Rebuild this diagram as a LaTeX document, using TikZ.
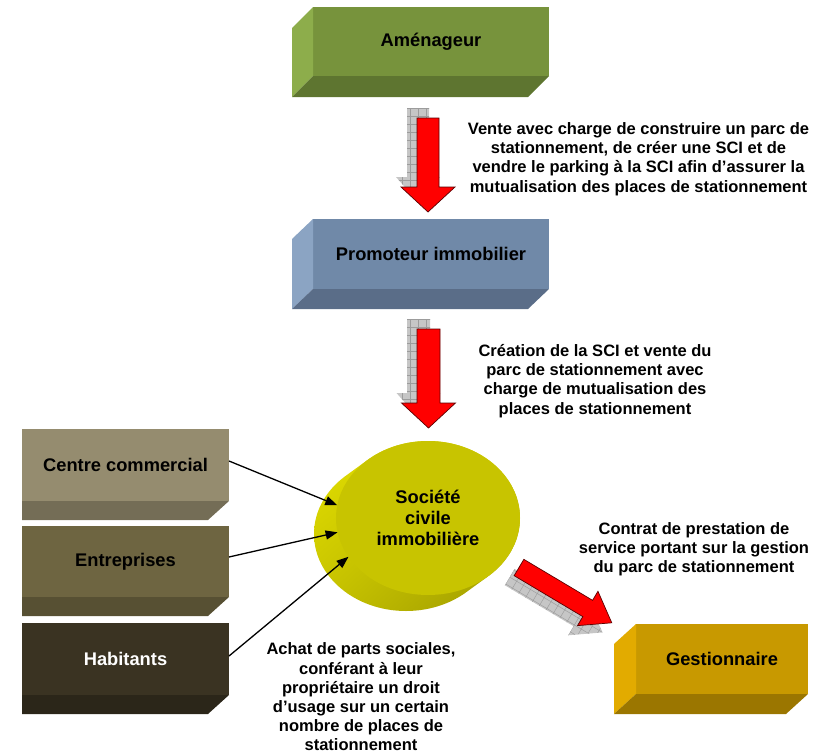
\documentclass[tikz,border=0pt]{standalone}
\usepackage{fontspec}
\setmainfont{Liberation Sans}
\usetikzlibrary{shapes.geometric,arrows.meta,calc,shadings}

% face colours of the blocks
\definecolor{amenF}{HTML}{77933C}
\definecolor{amenL}{HTML}{8DAD4B}
\definecolor{amenB}{HTML}{5E7530}
\definecolor{promF}{HTML}{7089A8}
\definecolor{promL}{HTML}{8BA4C3}
\definecolor{promB}{HTML}{5A6D88}
\definecolor{centF}{HTML}{958C6F}
\definecolor{centB}{HTML}{746D56}
\definecolor{entrF}{HTML}{6E6541}
\definecolor{entrB}{HTML}{575033}
\definecolor{habiF}{HTML}{3A3322}
\definecolor{habiB}{HTML}{2B2619}
\definecolor{gestF}{HTML}{C89900}
\definecolor{gestL}{HTML}{E2AB00}
\definecolor{gestB}{HTML}{9B7600}
\definecolor{sciF}{HTML}{C8C400}
\definecolor{sciUL}{HTML}{E6E200}
\definecolor{sciUR}{HTML}{D6D200}
\definecolor{sciLL}{HTML}{C8C400}
\definecolor{sciLR}{HTML}{969200}
% block arrows
\definecolor{arrowRed}{HTML}{FF0000}
\definecolor{arrowEdge}{HTML}{5A0000}
\definecolor{shadowGray}{HTML}{C6C6C6}
\definecolor{shadowLine}{HTML}{9C9C9C}

% left and bottom faces of an extruded block
\newcommand\boxsides[5]{%
  \fill[#4] (#1.north west) -- ++(-#2,#3) -- ([shift={(-#2,#3)}]#1.south west) -- (#1.south west) -- cycle;
  \fill[#5] (#1.south west) -- (#1.south east) -- ++(-#2,#3) -- ([shift={(-#2,#3)}]#1.south west) -- cycle;}
% bottom face only
\newcommand\boxbottom[4]{%
  \fill[#4] (#1.south west) -- (#1.south east) -- ++(-#2,#3) -- ([shift={(0,#3)}]#1.south west) -- cycle;}
% outline of a block arrow along the local x axis:
% length, half shaft width, half head width, head length
\newcommand\arrowpath[4]{(0,-#2) -- ({#1-#4},-#2) -- ({#1-#4},-#3) -- (#1,0) -- ({#1-#4},#3) -- ({#1-#4},#2) -- (0,#2) -- cycle}
% hatched grey shadow behind a block arrow
\newcommand\arrowshadow[4]{%
  \begin{scope}
    \clip \arrowpath{#1}{#2}{#3}{#4};
    \fill[shadowGray] (-20,-60) rectangle (150,60);
    \draw[draw=shadowLine, line width=0.45pt, step=8pt] (-24,-64) grid (152,64);
  \end{scope}}

\begin{document}
\begin{tikzpicture}[x=1pt,y=-1pt,
  face/.style={inner sep=0pt, outer sep=0pt, align=center,
    font=\bfseries\fontsize{18.3}{21}\selectfont},
  note/.style={inner sep=0pt, align=center,
    font=\bfseries\fontsize{16.5}{19.2}\selectfont},
  conn/.style={line width=1.3pt, -{Triangle[length=12pt,width=9pt]}},
  arrowred/.style={fill=arrowRed, draw=arrowEdge, line width=0.7pt, line join=miter}]

\useasboundingbox (0,0) rectangle (823,755);

% blocks
\node[face, fill=amenF, minimum width=236pt, minimum height=69pt] (amen) at (431,41.5) {Aménageur};
\boxsides{amen}{21}{21}{amenL}{amenB}

\node[face, fill=promF, minimum width=236pt, minimum height=70pt] (prom) at (431,254) {Promoteur immobilier};
\boxsides{prom}{21}{20}{promL}{promB}

\node[face, fill=centF, minimum width=207pt, minimum height=72pt] (cent) at (125.5,465) {Centre commercial};
\boxbottom{cent}{21}{19}{centB}

\node[face, fill=entrF, minimum width=207pt, minimum height=71pt] (entr) at (125.5,561.5) {Entreprises};
\boxbottom{entr}{21}{19}{entrB}

\node[face, fill=habiF, text=white, minimum width=207pt, minimum height=72pt] (habi) at (125.5,659) {Habitants};
\boxbottom{habi}{21}{19}{habiB}

\node[face, fill=gestF, minimum width=172pt, minimum height=70pt] (gest) at (722,659) {Gestionnaire};
\boxsides{gest}{22}{20}{gestL}{gestB}

% cylinder of the SCI: side, then top face
\coordinate (scic) at (428,518);
\begin{scope}
  \path[clip] foreach \k in {0,0.05,...,1.01} {($(scic)+\k*(-22,16)$) ellipse [x radius=92pt, y radius=77pt]};
  \shade[upper left=sciUL, upper right=sciUR, lower left=sciLL, lower right=sciLR]
        (300,430) rectangle (530,620);
\end{scope}
\node[ellipse, fill=sciF, inner sep=0pt, outer sep=0pt, minimum width=184pt, minimum height=154pt,
      align=center, font=\bfseries\fontsize{18.3}{21}\selectfont] (sci) at (scic)
      {Société\\civile\\immobilière};

% members buying shares
\draw[conn] ([yshift=4pt]cent.east) -- (sci.172.5);
\draw[conn] ([yshift=4.5pt]entr.east) -- (sci.189.5);
\draw[conn] ([yshift=3pt]habi.east) -- (sci.206);

% block arrows
\coordinate (a1) at (428,118);
\begin{scope}[shift={(a1)}, rotate=-90]
  \begin{scope}[shift={(-10,10)}]\arrowshadow{94}{11}{22}{25}\end{scope}
  \draw[arrowred] \arrowpath{94}{11}{27}{25};
\end{scope}

\coordinate (a2) at (428.5,329);
\begin{scope}[shift={(a2)}, rotate=-90]
  \begin{scope}[shift={(-10,10)}]\arrowshadow{99}{11.5}{22}{25}\end{scope}
  \draw[arrowred] \arrowpath{99}{11.5}{27}{25};
\end{scope}

\coordinate (a3) at (519,567.5);
\begin{scope}[shift={(a3)}, rotate=-30.8]
  \begin{scope}[shift={(-3,13)}]\arrowshadow{108}{9.5}{20}{28}\end{scope}
  \draw[arrowred] \arrowpath{108}{9.5}{20}{28};
\end{scope}

% captions
\node[note] (t1) at (638.5,159) {Vente avec charge de construire un parc de\\stationnement, de créer une SCI et de\\vendre le parking à la SCI afin d’assurer la\\mutualisation des places de stationnement};
\node[note] (t2) at (595,381) {Création de la SCI et vente du\\parc de stationnement avec\\charge de mutualisation des\\places de stationnement};
\node[note] (t3) at (694,549) {Contrat de prestation de\\service portant sur la gestion\\du parc de stationnement};
\node[note] (t4) at (361,697) {Achat de parts sociales,\\conférant à leur\\propriétaire un droit\\d’usage sur un certain\\nombre de places de\\stationnement};
\end{tikzpicture}
\end{document}
